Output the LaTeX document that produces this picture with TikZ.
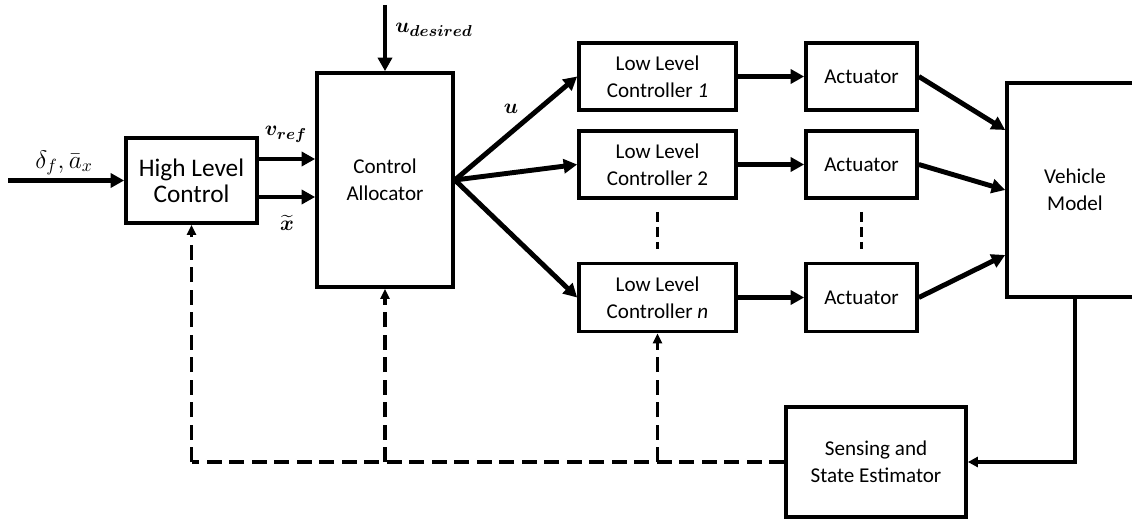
\documentclass[tikz,border=0pt]{standalone}
\usepackage{amsmath}
\usepackage{bm}
\usepackage{fontspec}
\setmainfont{Carlito}
\usetikzlibrary{arrows.meta}

\begin{document}
\begin{tikzpicture}[
    block/.style = {draw, line width=2.1pt, align=center,
        font=\fontsize{12}{15.5}\selectfont, inner sep=0pt},
    flow/.style = {line width=2.8pt, -{Triangle[length=0.27cm,width=0.28cm]}},
    thinflow/.style = {line width=1.9pt, -{Triangle[length=0.2cm,width=0.2cm]}},
    fback/.style = {line width=2.1pt, dash pattern=on 0.3cm off 0.15cm},
    dots/.style = {line width=2.1pt, dash pattern=on 0.2cm off 0.1cm},
    lbl/.style = {font=\fontsize{13}{15}\selectfont}]

\useasboundingbox (0,0) rectangle (22.64,10.36);

% High level control
\node[block,font=\fontsize{14.4}{15}\selectfont,minimum width=2.62cm,minimum height=1.70cm] (hlc) at (3.83,6.75) {High Level\\Control};

% Control allocator
\node[block,minimum width=2.72cm,minimum height=4.28cm] (alloc) at (7.70,6.76) {Control\\Allocator};

% Low level controllers
\node[block,minimum width=3.14cm,minimum height=1.34cm] (llc1) at (13.15,8.83) {Low Level\\Controller \textit{1}};
\node[block,minimum width=3.14cm,minimum height=1.34cm] (llc2) at (13.15,7.07) {Low Level\\Controller 2};
\node[block,minimum width=3.14cm,minimum height=1.36cm] (llcn) at (13.15,4.41) {Low Level\\Controller \textit{n}};

% Actuators
\node[block,minimum width=2.22cm,minimum height=1.34cm] (act1) at (17.23,8.83) {Actuator};
\node[block,minimum width=2.22cm,minimum height=1.34cm] (act2) at (17.23,7.07) {Actuator};
\node[block,minimum width=2.22cm,minimum height=1.36cm] (actn) at (17.23,4.41) {Actuator};

% Vehicle model
\node[block,minimum width=2.72cm,minimum height=4.28cm] (veh) at (21.50,6.56) {Vehicle\\Model};

% Sensing
\node[block,minimum width=3.60cm,minimum height=2.20cm] (sense) at (17.52,1.12) {Sensing and\\State Estimator};

% Inputs
\coordinate (in) at (0.16,6.75);
\coordinate (udes) at (7.70,10.26);
\draw[flow] (in) -- (hlc.west);
\draw[flow] (udes) -- (alloc.north);
\node[font=\fontsize{14}{16}\selectfont] (lin) at (1.28,7.10) {$\delta_f,\bar{a}_x$};
\node[lbl] (ludes) at (8.68,9.76) {$\bm{u_{desired}}$};

% High level to allocator
\draw[flow] ([yshift=0.43cm]hlc.east) -- ([yshift=0.43cm]hlc.east -| alloc.west);
\draw[flow] ([yshift=-0.33cm]hlc.east) -- ([yshift=-0.33cm]hlc.east -| alloc.west);
\node[lbl] (lvref) at (5.72,7.68) {$\bm{v_{ref}}$};
\node[lbl] (lxt) at (5.74,5.90) {$\bm{\widetilde{x}}$};

% Allocator to controllers
\draw[flow] (alloc.east) -- (llc1.west);
\draw[flow] (alloc.east) -- (llc2.west);
\draw[flow] (alloc.east) -- (llcn.west);
\node[lbl] (lu) at (10.22,8.18) {$\bm{u}$};

% Controllers to actuators
\draw[flow] (llc1) -- (act1);
\draw[flow] (llc2) -- (act2);
\draw[flow] (llcn) -- (actn);
\draw[dots] ([yshift=-0.24cm]llc2.south) -- ([yshift=0.26cm]llcn.north);
\draw[dots] ([yshift=-0.24cm]act2.south) -- ([yshift=0.26cm]actn.north);

% Actuators to vehicle
\draw[flow] (act1.east) -- ([yshift=1.20cm]veh.west);
\draw[flow] (act2.east) -- (veh.west);
\draw[flow] (actn.east) -- ([yshift=-1.30cm]veh.west);

% Feedback
\draw[thinflow] (veh.south) |- (sense.east);
\coordinate (fb1) at (hlc.south |- sense.west);
\coordinate (fb2) at (alloc.south |- sense.west);
\coordinate (fb3) at (llcn.south |- sense.west);
\draw[fback] (sense.west) -- (fb1);
\draw[fback,-{Triangle[length=0.2cm,width=0.18cm]}] (fb1) -- (hlc.south);
\draw[fback,-{Triangle[length=0.2cm,width=0.18cm]}] (fb2) -- (alloc.south);
\draw[fback,-{Triangle[length=0.2cm,width=0.18cm]}] (fb3) -- (llcn.south);
\end{tikzpicture}
\end{document}
